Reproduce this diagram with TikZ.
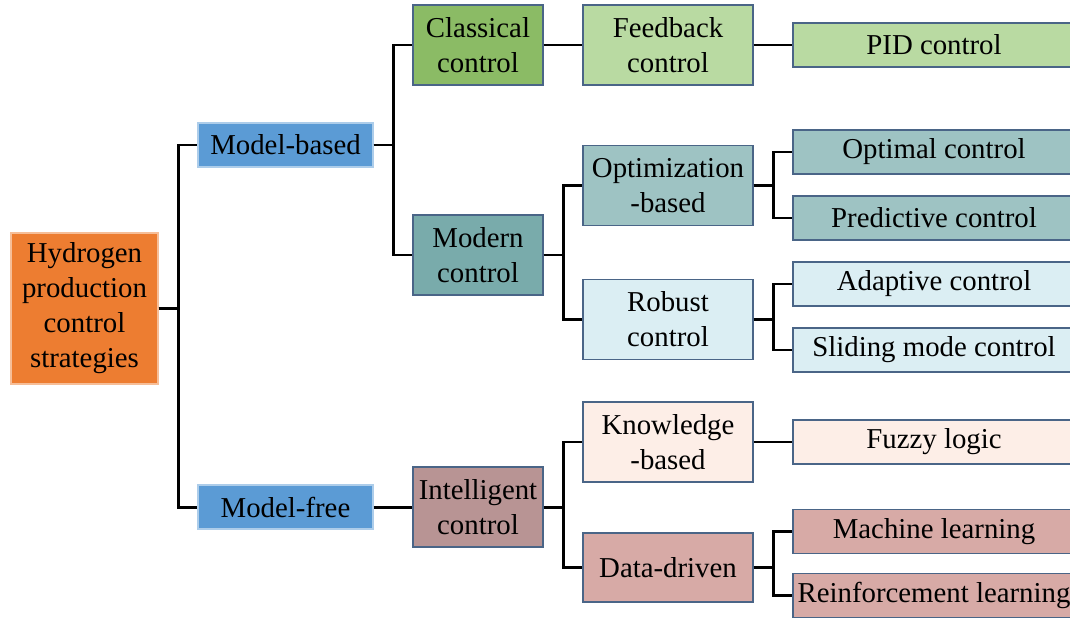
\documentclass[tikz,border=0pt]{standalone}
\usepackage{fontspec}
\setmainfont{Liberation Serif}
\definecolor{edge}{HTML}{4A6587}
\definecolor{rootc}{HTML}{ED7D31}
\definecolor{modelc}{HTML}{5B9BD5}
\definecolor{classc}{HTML}{8BBB65}
\definecolor{feedc}{HTML}{B9DAA2}
\definecolor{modc}{HTML}{79ABAB}
\definecolor{optc}{HTML}{9EC3C3}
\definecolor{robc}{HTML}{DBEEF3}
\definecolor{intc}{HTML}{B89494}
\definecolor{knwc}{HTML}{FDEEE7}
\definecolor{datc}{HTML}{D7AAA6}

\begin{document}
\begin{tikzpicture}[x=0.02cm,y=-0.02cm,
		box/.style={draw=edge, line width=0.6pt, inner sep=0pt, align=center,
			font=\fontsize{16.4}{19.9}\selectfont},
		size/.style 2 args={minimum width=#1*0.02cm, minimum height=#2*0.02cm},
		leaf/.style={box, size={282}{44}},
		link/.style={line width=1.7pt}]
		\clip (0,0) rectangle (1070,618);
		% first two levels
		\node[box, fill=rootc, draw=rootc!50!white, size={147}{151}] (root) at (84.5,308.5) {Hydrogen\\production\\control\\strategies};
		\node[box, fill=modelc, draw=modelc!50!white, size={175}{44}] (mb) at (285.5,145) {Model-based};
		\node[box, fill=modelc, draw=modelc!50!white, size={175}{44}] (mf) at (285.5,507) {Model-free};
		% third level
		\node[box, fill=classc, size={130}{80}] (cls) at (478,45) {Classical\\control};
		\node[box, fill=modc, size={130}{80}] (mod) at (478,255) {Modern\\control};
		\node[box, fill=intc, size={130}{80}] (intl) at (478,507) {Intelligent\\control};
		% fourth level
		\node[box, fill=feedc, size={170}{80}] (fb) at (668,45) {Feedback\\control};
		\node[box, fill=optc, size={170}{80}] (opt) at (668,185.5) {Optimization\\-based};
		\node[box, fill=robc, size={170}{80}] (rob) at (668,319.5) {Robust\\control};
		\node[box, fill=knwc, size={170}{80}] (knw) at (668,442) {Knowledge\\-based};
		\node[box, fill=datc, size={170}{69}] (dat) at (668,567.5) {Data-driven};
		% leaves
		\node[leaf, fill=feedc] (pid) at (934,45) {PID control};
		\node[leaf, fill=optc] (optm) at (934,152) {Optimal control};
		\node[leaf, fill=optc] (pred) at (934,218) {Predictive control};
		\node[leaf, fill=robc] (adap) at (934,284) {Adaptive control};
		\node[leaf, fill=robc] (slid) at (934,350) {Sliding mode control};
		\node[leaf, fill=knwc] (fuzz) at (934,442) {Fuzzy logic};
		\node[leaf, fill=datc] (ml) at (934,531.5) {Machine learning};
		\node[leaf, fill=datc] (rl) at (934,595.5) {Reinforcement learning};
		% connectors
		\foreach \p/\c in {root/mb, root/mf, mb/cls, mb/mod, mf/intl,
			cls/fb, mod/opt, mod/rob, intl/knw, intl/dat,
			fb/pid, opt/optm, opt/pred, rob/adap, rob/slid, knw/fuzz, dat/ml, dat/rl}
		{
			\draw[link] (\p.east) -- ++(20,0) |- (\c.west);
		}
	\end{tikzpicture}
\end{document}
